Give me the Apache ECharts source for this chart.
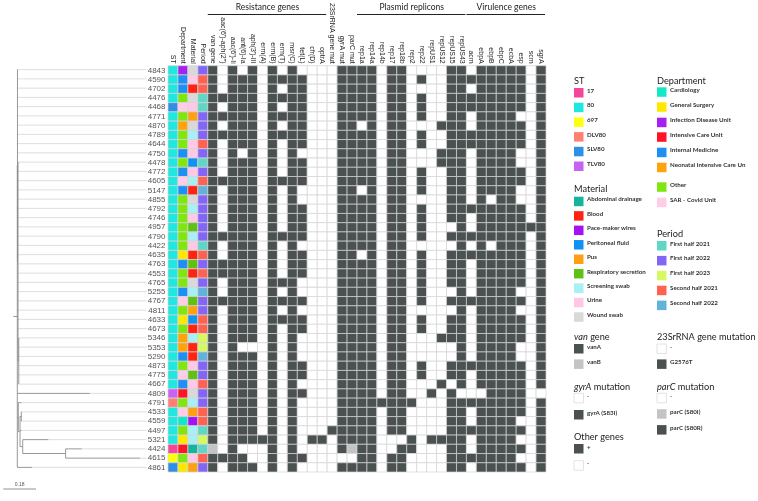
<!DOCTYPE html>
<html>
<head>
<meta charset="utf-8">
<script src="https://cdn.jsdelivr.net/npm/echarts@6/dist/echarts.min.js"></script>
<style>
html,body{margin:0;padding:0;background:#fff}
#chart{width:758px;height:501px}
</style>
</head>
<body>
<div id="chart"></div>
<script>
// isolates, in tree order
var isolates = ['4843','4590','4702','4476','4468','4771','4870','4789','4644','4750','4478','4772','4605','5147','4855','4792','4746','4957','4790','4422','4635','4763','4553','4765','5255','4767','4811','4633','4673','5346','5353','5290','4873','4775','4667','4809','4791','4533','4559','4497','5321','4424','4615','4861'];

var metaCols = ['ST','Department','Material','Period'];
var geneCols = ['van gene',"aac(6')-aph(2'')","aac(6')-Ii",'ant(6)-Ia',"aph(3')-III",'erm(A)','erm(B)','erm(T)','msr(C)','tet(L)','cfr(D)','optrA',
  '23SrRNA gene mut','gyrA mut','parC mut',
  'rep1a','rep14a','rep14b','rep17','rep18b','rep2','rep22','repUS1','repUS12','repUS15','repUS43',
  'acm','ebpA','ebpB','ebpC','ecbA','esp','scm','sgrA'];

// per isolate metadata
var stType = ['80','80','80','80','SLV80','80','80','80','80','80','80','80','80','80','80','80','80','80','80','80','80','80','80','80','80','80','80','80','80','80','80','80','80','80','80','TLV80','DLV80','80','80','80','80','17','697','SLV80'];
var department = ['Infection Disease Unit','Internal Medicine','Internal Medicine','Other','SAR - Covid Unit','Other','Neonatal Intensive Care Un','Other','Other','Internal Medicine','Other','Internal Medicine','SAR - Covid Unit','Internal Medicine','Other','Other','Other','Other',
  'Other','Other','General Surgery','Internal Medicine','Other','Other','Internal Medicine','SAR - Covid Unit','Other','General Surgery','Other','Neonatal Intensive Care Un','Neonatal Intensive Care Un','Internal Medicine','Other','SAR - Covid Unit',
  'Internal Medicine','Intensive Care Unit','Other','SAR - Covid Unit','Cardiology','Other','General Surgery','Intensive Care Unit','Other','General Surgery'];
var material = ['Wound swab','Urine','Blood','Wound swab','Urine','Pus','Wound swab','Screening swab','Urine','Urine','Peritoneal fluid','Urine','Screening swab','Blood','Wound swab','Screening swab','Urine','Respiratory secretion',
  'Screening swab','Urine','Blood','Respiratory secretion','Blood','Wound swab','Screening swab','Respiratory secretion','Pus','Peritoneal fluid','Blood','Screening swab','Blood','Blood','Urine','Respiratory secretion',
  'Urine','Wound swab','Screening swab','Pus','Pace-maker wires','Screening swab','Screening swab','Abdominal drainage','Urine','Pus'];
var period = ['First half 2022','Second half 2021','Second half 2021','First half 2021','First half 2021','First half 2022','First half 2022','First half 2022','Second half 2021','First half 2022','First half 2021','First half 2022','Second half 2021','Second half 2022','First half 2022','First half 2022','First half 2022','First half 2022',
  'First half 2022','First half 2021','Second half 2021','First half 2022','Second half 2021','First half 2022','Second half 2022','First half 2022','First half 2022','Second half 2021','Second half 2021','First half 2023','First half 2023','Second half 2022','First half 2022','First half 2022',
  'Second half 2021','First half 2022','First half 2022','Second half 2021','Second half 2021','First half 2021','First half 2023','First half 2021','Second half 2021','First half 2022'];

// gene profile per isolate: 1 = present / mutated, 2 = vanB / parC (S80I), 0 = absent
// groups: resistance (12) | mutations (3) | plasmid replicons (11) | virulence (8)
var geneRows = [
  '101010101000 011 11011000011 01111101', // 4843
  '101110111100 011 11011010011 11111101', // 4590
  '101110101100 011 11011000011 01111101', // 4702
  '111110111100 011 11011010011 11111101', // 4476
  '101110101100 011 11011010011 11111101', // 4468
  '111110111100 011 11011010011 01111001', // 4771
  '101110101100 011 01011000111 01111101', // 4870
  '111110111100 011 11011010011 11111101', // 4789
  '101110101100 011 11011010011 11111101', // 4644
  '101010101000 011 11011000111 01111001', // 4750
  '101110101100 011 11011000111 01111001', // 4478
  '101110101100 011 11011010011 01111101', // 4772
  '111110111100 011 11011010011 01111101', // 4605
  '101110101000 011 01011010011 01111001', // 5147
  '101110101000 011 11011000011 01011001', // 4855
  '101110101100 011 11011010011 11111101', // 4792
  '101110101100 011 11011010011 01111101', // 4746
  '101110101100 011 11011010001 01111111', // 4957
  '111110111100 011 11011010011 11111101', // 4790
  '101110101000 011 11011000001 01011101', // 4422
  '101110101100 011 01011010011 11111101', // 4635
  '111110101100 011 11011010011 01111101', // 4763
  '111110101100 011 11011010011 01111101', // 4553
  '101110111000 011 11011010011 01111101', // 4765
  '101110101000 011 11011010001 01111001', // 5255
  '111110111100 011 11011010011 11111101', // 4767
  '101110101000 011 11011000001 01111001', // 4811
  '101110111100 011 11011010011 01111101', // 4633
  '101110101100 011 11011010011 01111101', // 4673
  '101110101000 011 11011000111 01111101', // 5346
  '101000101000 011 11011000001 01111001', // 5353
  '101110101000 011 11011000001 01111001', // 5290
  '101110101100 011 11011010011 11111101', // 4873
  '101110101100 011 11011010011 01111101', // 4775
  '101110101000 011 11011000101 01111101', // 4667
  '101110101100 011 11011001010 00111100', // 4809
  '101110101000 011 11111100011 11111101', // 4791
  '101110101000 011 11011000011 01111101', // 4533
  '101110101000 011 11011000011 01111001', // 4559
  '101110101000 111 11011000011 11111101', // 4497
  '101111101011 011 11000101111 01111001', // 5321
  '201000101000 012 11001100011 01111101', // 4424
  '111100101100 000 11011000011 11111001', // 4615
  '101110101000 011 11011000011 01111101'  // 4861
];

// tree (branch lengths, substitutions/site)
var treeNewick = '(((4843:0.002,4590:0.002,4702:0.002,4476:0.002,4468:0.002,4771:0.002,4870:0.002,4789:0.002,4644:0.002,4750:0.002,' +
  '(4478:0.001,4772:0.001,4605:0.001,5147:0.001,4855:0.001,4792:0.001,4746:0.001,4957:0.001,4790:0.001,4422:0.001,4635:0.001,4763:0.001,4553:0.001,4765:0.001,5255:0.001,4767:0.001,4811:0.001,4633:0.001,4673:0.001,' +
  '(5346:0.001,5353:0.001,5290:0.001,4873:0.001,4775:0.001,4667:0.001):0.004):0.003):0.001,' +
  '4809:0.40,' +
  '(4791:0.018,((4533:0.003,4559:0.003):0.007,4497:0.008,(5321:0.141,(4424:0.088,4615:0.409):0.236):0.015):0.0094):0.0055,' +
  '4861:0.081):0.022;';

// legend colours
var stLegend = ['17','80','697','DLV80','SLV80','TLV80'];
var stColors = ['#f4479a','#20e8e0','#ffff10','#ff8070','#2f8fe6','#c862f2'];
var deptLegend = ['Cardiology','General Surgery','Infection Disease Unit','Intensive Care Unit','Internal Medicine','Neonatal Intensive Care Un','Other','SAR - Covid Unit'];
var deptColors = ['#14e6c8','#ffe800','#a421f0','#ff1426','#1e8ff4','#ffa30c','#80e610','#ffcde6'];
var materialLegend = ['Abdominal drainage','Blood','Pace-maker wires','Peritoneal fluid','Pus','Respiratory secretion','Screening swab','Urine','Wound swab'];
var materialColors = ['#16b49c','#ff2312','#a412f2','#1192f0','#ffa014','#5ec214','#a6f0f6','#ffc9e6','#d9d9d9'];
var periodLegend = ['First half 2021','First half 2022','First half 2023','Second half 2021','Second half 2022'];
var periodColors = ['#5fd6c6','#8466f6','#d6f862','#ff6252','#62b2da'];
var darkCell = '#4b5151', greyCell = '#c4c4c4';

var columns = metaCols.concat(geneCols);

function pick(names, colors, v){ return colors[names.indexOf(v)]; }

var cells = [];
isolates.forEach(function(id, r){
  cells.push([0, r, pick(stLegend, stColors, stType[r])]);
  cells.push([1, r, pick(deptLegend, deptColors, department[r])]);
  cells.push([2, r, pick(materialLegend, materialColors, material[r])]);
  cells.push([3, r, pick(periodLegend, periodColors, period[r])]);
  var g = geneRows[r].replace(/ /g, '');
  for (var k = 0; k < g.length; k++) {
    var v = g.charAt(k);
    cells.push([4 + k, r, v === '1' ? darkCell : (v === '2' ? greyCell : '#ffffff')]);
  }
});

// ---- tree layout
function parseNewick(s){
  var i = 0;
  function node(){
    var n = {children: [], name: '', len: 0};
    if (s[i] === '(') {
      i++;
      n.children.push(node());
      while (s[i] === ',') { i++; n.children.push(node()); }
      i++;
    }
    var m = /^[^:,();]*/.exec(s.slice(i))[0];
    n.name = m; i += m.length;
    if (s[i] === ':') {
      i++;
      var l = /^[0-9.eE-]+/.exec(s.slice(i))[0];
      n.len = parseFloat(l); i += l.length;
    }
    return n;
  }
  return node();
}
var tree = parseNewick(treeNewick);
var treeMax = 0.733, treeMin = -0.0732;
var segs = [];
function layout(n, x0){
  var x = x0 + n.len, y;
  if (!n.children.length) {
    y = isolates.indexOf(n.name);
    segs.push([x, y, treeMax, y, 1]);
  } else {
    var ys = n.children.map(function(c){ return layout(c, x); });
    var y1 = ys[0], y2 = ys[ys.length - 1];
    y = (y1 + y2) / 2;
    segs.push([x, y1, x, y2, 0]);
  }
  segs.push([x0, y, x, y, 0]);
  return y;
}
layout(tree, 0);
// draw dark branches on top of light guide lines
segs.sort(function(a, b){ return b[4] - a[4]; });

var G = {left: 168, top: 65, width: 378, height: 407};

var chart = echarts.init(document.getElementById('chart'));
var option = {
  animation: false,
  textStyle: {fontFamily: 'Liberation Sans, Arial, sans-serif'},
  grid: [
    {left: G.left, top: G.top, width: G.width, height: G.height},
    {left: 0, top: G.top, width: 146.5, height: G.height}
  ],
  xAxis: [
    {type: 'category', gridIndex: 0, data: columns, position: 'top',
      axisLine: {show: false}, axisTick: {show: false}, splitLine: {show: false},
      axisLabel: {rotate: 90, interval: 0, fontSize: 7, color: '#222', margin: 2}},
    {type: 'value', gridIndex: 1, min: treeMin, max: treeMax, show: false}
  ],
  yAxis: [
    {type: 'category', gridIndex: 0, data: isolates, inverse: true,
      axisLine: {show: false}, axisTick: {show: false}, splitLine: {show: false},
      axisLabel: {interval: 0, fontSize: 8, color: '#555', margin: 2.5}},
    {type: 'value', gridIndex: 1, min: -0.5, max: 43.5, inverse: true, show: false}
  ],
  series: [
    {
      type: 'custom', xAxisIndex: 0, yAxisIndex: 0, data: cells,
      renderItem: function(params, api){
        var c = api.coord([api.value(0), api.value(1)]);
        var s = api.size([1, 1]);
        return {type: 'rect',
          shape: {x: c[0] - s[0] / 2, y: c[1] - s[1] / 2, width: s[0], height: s[1]},
          style: {fill: cells[params.dataIndex][2], stroke: '#d4d4d4', lineWidth: 0.7}};
      }
    },
    {
      type: 'custom', xAxisIndex: 1, yAxisIndex: 1, data: segs,
      renderItem: function(params, api){
        var p1 = api.coord([api.value(0), api.value(1)]);
        var p2 = api.coord([api.value(2), api.value(3)]);
        return {type: 'line',
          shape: {x1: p1[0], y1: p1[1], x2: p2[0], y2: p2[1]},
          style: {stroke: api.value(4) ? '#dadada' : '#8c8c8c', lineWidth: 0.9}};
      }
    }
  ]
};
chart.setOption(option);

// ---- group headers, scale bar and legend
var gr = [];
var colW = G.width / columns.length;
function colX(c){ return G.left + c * colW; }
function header(txt, c1, c2){
  var x1 = colX(c1), x2 = colX(c2 + 1);
  gr.push({type: 'line', shape: {x1: x1, y1: 14.5, x2: x2 - 1, y2: 14.5}, style: {stroke: '#222', lineWidth: 1}});
  gr.push({type: 'text', x: (x1 + x2) / 2, y: 7.5, style: {text: txt, fontSize: 8.5, fontFamily: 'Lato', fill: '#222', align: 'center', verticalAlign: 'middle'}});
}
header('Resistance genes', 4, 15);
header('Plasmid replicons', 19, 29);
header('Virulence genes', 30, 37);

gr.push({type: 'line', shape: {x1: 3.3, y1: 489, x2: 36, y2: 489}, style: {stroke: '#777', lineWidth: 0.8}});
gr.push({type: 'text', x: 19.6, y: 485, style: {text: '0.18', fontSize: 5, fill: '#555', align: 'center', verticalAlign: 'middle'}});

function title(txt, x, y, rich){
  var st = {text: txt, x: x, y: y, fontSize: 9.2, fontFamily: 'Lato', fill: '#222', verticalAlign: 'middle'};
  if (rich) st.rich = {i: {fontStyle: 'italic', fontSize: 9.2, fontFamily: 'Lato', fill: '#222'}};
  gr.push({type: 'text', style: st});
}
function items(names, colors, x, y0, step){
  names.forEach(function(n, k){
    var y = Array.isArray(step) ? step[k] : y0 + k * step;
    gr.push({type: 'rect', shape: {x: x, y: y, width: 9.5, height: 9.5},
      style: {fill: colors[k], stroke: colors[k] === '#ffffff' ? '#dcdcdc' : null, lineWidth: 0.8}});
    gr.push({type: 'text', style: {text: n, x: x + 13, y: y + 2.6, fontSize: 6.2, fontWeight: 'bold', fontFamily: 'Lato', fill: '#333', verticalAlign: 'middle'}});
  });
}
var AX = 574, BX = 657;
title('ST', AX, 81);
items(stLegend, stColors, AX, 88, 14.7);
title('Department', BX, 81);
items(deptLegend, deptColors, BX, 0, [87.3, 102.3, 117.7, 132.3, 147.7, 162.7, 182.3, 197.7]);
title('Material', AX, 189.5);
items(materialLegend, materialColors, AX, 196.7, 14.45);
title('Period', BX, 234.5);
items(periodLegend, periodColors, BX, 241, 14.9);
title('{i|van} gene', AX, 337.5, true);
items(['vanA', 'vanB'], [darkCell, greyCell], AX, 344, 15.4);
title('23SrRNA gene mutation', BX, 337.5);
items(['-', 'G2576T'], ['#ffffff', darkCell], BX, 344, 15.4);
title('{i|gyrA} mutation', AX, 386.7, true);
items(['-', 'gyrA (S83I)'], ['#ffffff', darkCell], AX, 393.3, 16.7);
title('{i|parC} mutation', BX, 386.7, true);
items(['-', 'parC (S80I)', 'parC (S80R)'], ['#ffffff', greyCell, darkCell], BX, 393.3, 15.9);
title('Other genes', AX, 436.7);
items(['+', '-'], [darkCell, '#ffffff'], AX, 444, 16.7);

chart.setOption({graphic: {elements: gr}});
</script>
</body>
</html>
